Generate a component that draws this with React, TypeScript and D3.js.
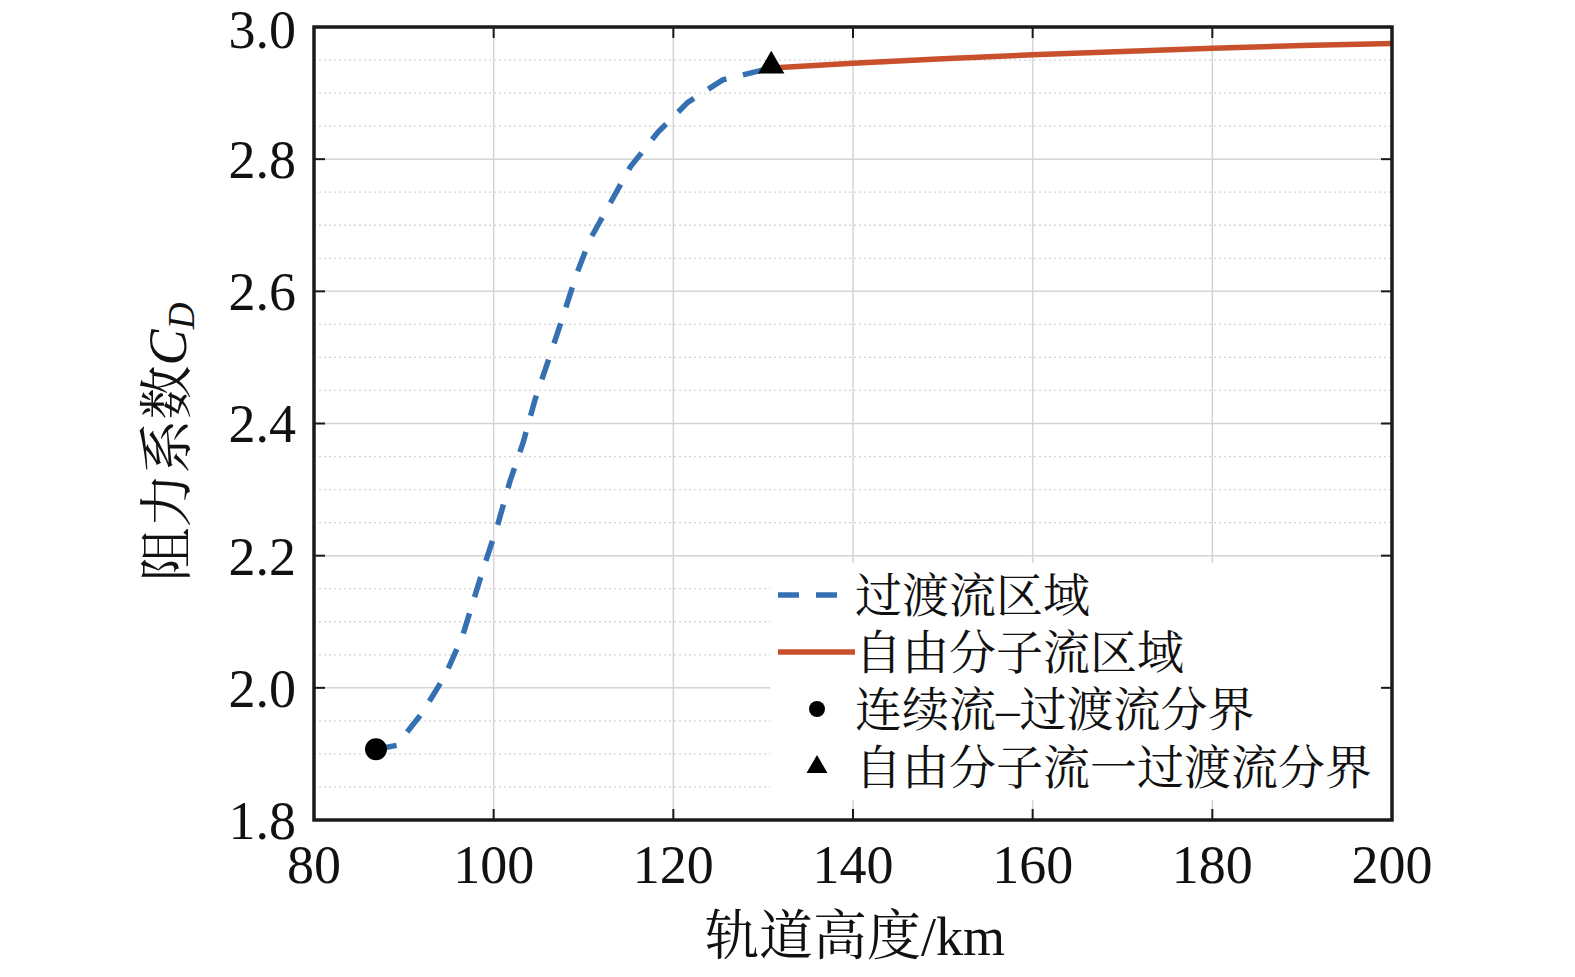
import * as d3 from 'd3'

// 过渡流区域 (dashed blue)
const transitionAlt = [86.9, 89.2, 92.1, 94.6, 96.5, 98.7, 100.5, 101.8, 103.3, 104.6, 106.1, 107.6, 109.2, 110.7, 113.0, 115.2, 118.3, 121.6, 125.5, 130.9]
const transitionCd = [1.907, 1.913, 1.963, 2.019, 2.077, 2.174, 2.249, 2.312, 2.372, 2.436, 2.496, 2.557, 2.625, 2.678, 2.734, 2.788, 2.841, 2.886, 2.92, 2.938]

// 自由分子流区域 (solid red)
const freeAlt = [130.9, 140, 150, 160, 170, 180, 190, 200]
const freeCd = [2.938, 2.945, 2.952, 2.958, 2.963, 2.968, 2.972, 2.975]

const continuumBoundary = { alt: 86.9, cd: 1.907 }
const freeBoundary = { alt: 130.9, cd: 2.938 }

const xTicks = [80, 100, 120, 140, 160, 180, 200]
const yTicks = [1.8, 2.0, 2.2, 2.4, 2.6, 2.8, 3.0]
const yMinorTicks = d3.range(1.85, 3.0, 0.05).filter((v) => Math.abs(Math.round(v * 5) - v * 5) > 0.01)

const legendLabels = ['过渡流区域', '自由分子流区域', '连续流–过渡流分界', '自由分子流一过渡流分界']

const W = 1575
const H = 977
const M = { left: 314, right: 1392, top: 27, bottom: 820 }
const BLUE = '#3570b2'
const RED = '#c9502c'
const GRID = '#d4d4d4'
const SERIF = "'Liberation Serif', 'Times New Roman', 'Noto Serif CJK SC', 'Noto Sans CJK SC', serif"

export default function App() {
  const x = d3.scaleLinear().domain([80, 200]).range([M.left, M.right])
  const y = d3.scaleLinear().domain([1.8, 3.0]).range([M.bottom, M.top])

  const line = d3
    .line<[number, number]>()
    .x((d) => x(d[0]))
    .y((d) => y(d[1]))
    .curve(d3.curveLinear)

  const transitionPath = line(transitionAlt.map((a, i) => [a, transitionCd[i]]) as [number, number][]) ?? ''
  const freePath = line(freeAlt.map((a, i) => [a, freeCd[i]]) as [number, number][]) ?? ''

  const tri = d3.symbol().type(d3.symbolTriangle)
  const bigTri = tri.size(300)() ?? ''
  const smallTri = tri.size(190)() ?? ''

  const legend = { x0: 770, y0: 563, x1: 1390, y1: 800 }
  const rowY = [595, 652, 709, 767]
  const textX = 855

  const tickLen = 11

  return (
    <svg width={W} height={H} style={{ position: 'absolute', left: 0, top: 0, background: '#fff' }}>
      {/* minor dotted horizontal grid */}
      {yMinorTicks.map((v) => (
        <line key={`ym${v}`} x1={M.left} x2={M.right} y1={y(v)} y2={y(v)} stroke={GRID} strokeWidth={1.3} strokeDasharray="2 3" />
      ))}
      {/* major grid */}
      {yTicks.map((v) => (
        <line key={`yg${v}`} x1={M.left} x2={M.right} y1={y(v)} y2={y(v)} stroke={GRID} strokeWidth={1.5} />
      ))}
      {xTicks.map((v) => (
        <line key={`xg${v}`} x1={x(v)} x2={x(v)} y1={M.top} y2={M.bottom} stroke={GRID} strokeWidth={1.5} />
      ))}

      {/* curves */}
      <path d={transitionPath} fill="none" stroke={BLUE} strokeWidth={5.5} strokeDasharray="21 17" />
      <path d={freePath} fill="none" stroke={RED} strokeWidth={5.5} />
      <circle cx={x(continuumBoundary.alt)} cy={y(continuumBoundary.cd)} r={11} fill="#000" />
      <path d={bigTri} transform={`translate(${x(freeBoundary.alt)},${y(freeBoundary.cd) - 2})`} fill="#000" />

      {/* legend */}
      <rect x={legend.x0} y={legend.y0} width={legend.x1 - legend.x0} height={legend.y1 - legend.y0} fill="#fff" />
      <line x1={778} x2={842} y1={rowY[0]} y2={rowY[0]} stroke={BLUE} strokeWidth={5.5} strokeDasharray="21 17" />
      <line x1={778} x2={855} y1={rowY[1]} y2={rowY[1]} stroke={RED} strokeWidth={5.5} />
      <circle cx={817} cy={rowY[2]} r={8} fill="#000" />
      <path d={smallTri} transform={`translate(${817},${rowY[3]})`} fill="#000" />
      {legendLabels.map((t, i) => (
        <text key={t} x={textX} y={rowY[i]} dy="0.36em" fontSize={47} fontFamily={SERIF} fill="#111">
          {t}
        </text>
      ))}

      {/* axes box */}
      <rect x={M.left} y={M.top} width={M.right - M.left} height={M.bottom - M.top} fill="none" stroke="#1a1a1a" strokeWidth={3.5} />
      {xTicks.slice(1, -1).map((v) => (
        <g key={`xt${v}`} stroke="#1a1a1a" strokeWidth={2}>
          <line x1={x(v)} x2={x(v)} y1={M.bottom} y2={M.bottom - tickLen} />
          <line x1={x(v)} x2={x(v)} y1={M.top} y2={M.top + tickLen} />
        </g>
      ))}
      {yTicks.slice(1, -1).map((v) => (
        <g key={`yt${v}`} stroke="#1a1a1a" strokeWidth={2}>
          <line x1={M.left} x2={M.left + tickLen} y1={y(v)} y2={y(v)} />
          <line x1={M.right} x2={M.right - tickLen} y1={y(v)} y2={y(v)} />
        </g>
      ))}

      {/* tick labels */}
      {xTicks.map((v) => (
        <text key={`xl${v}`} x={x(v)} y={883} textAnchor="middle" fontSize={54} fontFamily={SERIF} fill="#111">
          {v}
        </text>
      ))}
      {yTicks.map((v) => (
        <text key={`yl${v}`} x={296} y={y(v) + (v === 3.0 ? 2 : 0)} dy="0.35em" textAnchor="end" fontSize={54} fontFamily={SERIF} fill="#111">
          {v.toFixed(1)}
        </text>
      ))}

      {/* axis titles */}
      <text x={855} y={955} textAnchor="middle" fontSize={54} fontFamily={SERIF} fill="#111">
        轨道高度/km
      </text>
      <text transform="translate(186,442) rotate(-90)" textAnchor="middle" fontSize={54} fontFamily={SERIF} fill="#111">
        阻力系数
        <tspan fontStyle="italic">C</tspan>
        <tspan fontStyle="italic" fontSize={37} dy={8}>D</tspan>
      </text>
    </svg>
  )
}
